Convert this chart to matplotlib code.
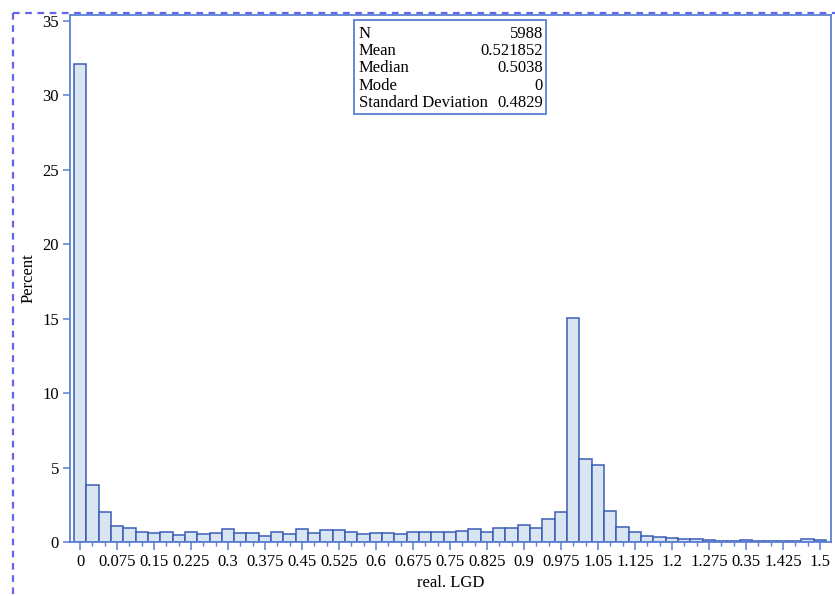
import numpy as np
import matplotlib
matplotlib.use("Agg")
import matplotlib.pyplot as plt
from matplotlib.patches import Rectangle
from matplotlib.lines import Line2D
from matplotlib.ticker import FixedLocator

plt.rcParams['font.family'] = ['Liberation Serif', 'DejaVu Serif']

# ---- data ----
bin_width = 0.025
bin_centers = np.round(np.arange(61) * bin_width, 3)
percent = [32.1, 3.85, 2.0, 1.07, 0.94, 0.70, 0.63, 0.70, 0.50, 0.64,
           0.56, 0.62, 0.89, 0.62, 0.62, 0.43, 0.69, 0.56, 0.84, 0.63,
           0.78, 0.78, 0.70, 0.55, 0.63, 0.63, 0.55, 0.70, 0.70, 0.70,
           0.70, 0.77, 0.85, 0.70, 0.97, 0.97, 1.17, 0.97, 1.56, 2.03,
           15.08, 5.55, 5.19, 2.08, 1.02, 0.70, 0.43, 0.35, 0.29, 0.23,
           0.22, 0.16, 0.10, 0.10, 0.16, 0.10, 0.10, 0.10, 0.05, 0.18,
           0.13]
xtick_values = [round(i * 0.075, 3) for i in range(21)]
xtick_labels = ["0", "0.075", "0.15", "0.225", "0.3", "0.375", "0.45", "0.525",
                "0.6", "0.675", "0.75", "0.825", "0.9", "0.975", "1.05", "1.125",
                "1.2", "1.275", "0.35", "1.425", "1.5"]
ytick_values = [0, 5, 10, 15, 20, 25, 30, 35]
stat_names = ["N", "Mean", "Median", "Mode", "Standard Deviation"]
stat_values = ["5988", "0.521852", "0.5038", "0", "0.4829"]

# ---- styling ----
W, H = 835, 596
frame_col = "#5b7fd2"
edge_col = "#3a5cb6"
fill_col = "#dae5f2"
dash_col = "#6464ee"
fs = 12

fig = plt.figure(figsize=(W / 100, H / 100), dpi=100)

def fx(x):
    return x / W

def fy(y):
    return 1 - y / H

ax = fig.add_axes([fx(70), fy(542), fx(831) - fx(70), fy(15) - fy(542)])
ax.bar(bin_centers, percent, width=bin_width, color=fill_col,
       edgecolor=edge_col, linewidth=1.1, zorder=2)

ax.set_xlim(-0.0203, 1.5224)
ax.set_ylim(0, 35.4)

ax.set_xticks(xtick_values)
ax.set_xticklabels(xtick_labels)
ax.xaxis.set_minor_locator(FixedLocator(list(bin_centers)))
ax.set_yticks(ytick_values)
ax.set_yticklabels([str(v) for v in ytick_values])

for s in ax.spines.values():
    s.set_color(frame_col)
    s.set_linewidth(1.3)

ax.tick_params(axis='both', which='major', direction='out', color=frame_col,
               width=1.1, labelsize=fs, labelcolor='black')
ax.tick_params(axis='x', which='major', length=6, pad=3)
ax.tick_params(axis='y', which='major', length=5, pad=3)
ax.tick_params(axis='x', which='minor', length=3, width=1.0, color=frame_col)

ax.set_xlabel("real. LGD", fontsize=fs, labelpad=3)
ax.set_ylabel("Percent", fontsize=fs, labelpad=4)

# ---- statistics inset box ----
fig.patches.append(Rectangle((fx(354), fy(114)), fx(546) - fx(354), fy(20.5) - fy(114),
                             transform=fig.transFigure, fill=True, facecolor='white',
                             edgecolor=frame_col, linewidth=1.3, zorder=5))
row_y = [34, 51, 68.5, 86, 103]
for name, val, yy in zip(stat_names, stat_values, row_y):
    fig.text(fx(359), fy(yy), name, ha='left', va='center', fontsize=fs, zorder=6)
    fig.text(fx(543), fy(yy), val, ha='right', va='center', fontsize=fs, zorder=6)

# ---- dashed outer border ----
fig.lines.append(Line2D([fx(13), fx(13)], [fy(13), 0], transform=fig.transFigure,
                        color=dash_col, linewidth=1.6, linestyle=(0, (3, 2.5))))
fig.lines.append(Line2D([fx(13), 1], [fy(13), fy(13)], transform=fig.transFigure,
                        color=dash_col, linewidth=1.6, linestyle=(0, (3, 2.5))))

fig.savefig("out.png", dpi=100)
